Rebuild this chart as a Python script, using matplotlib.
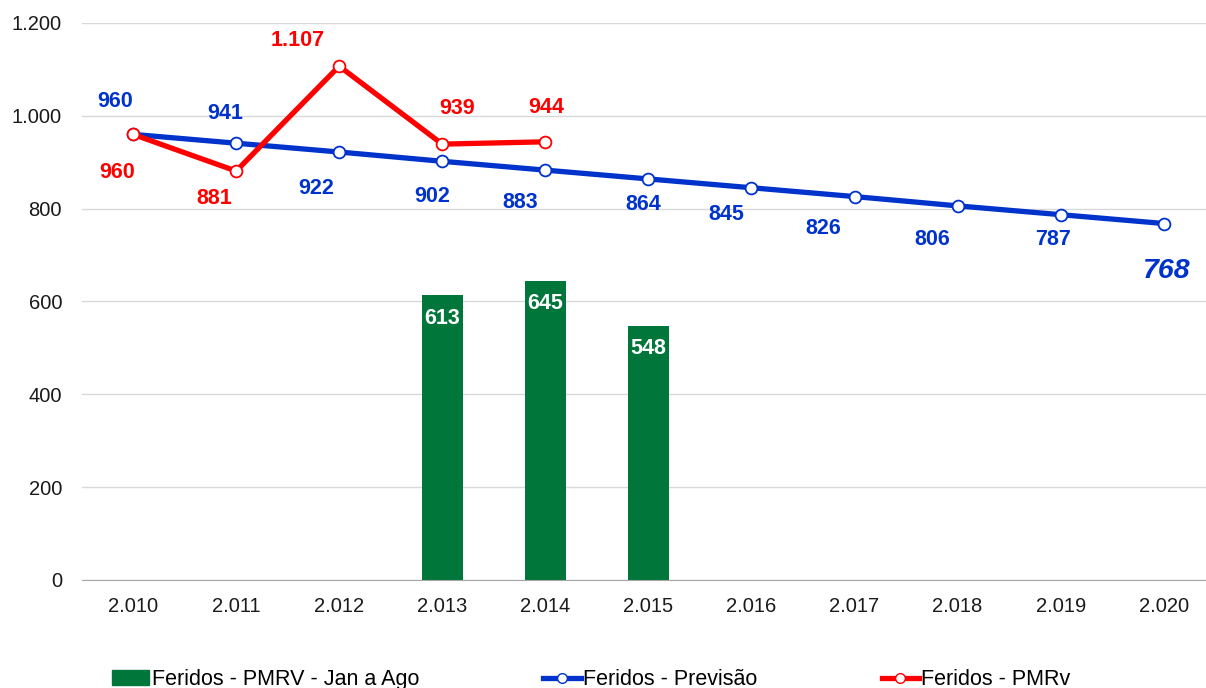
import matplotlib
matplotlib.use("Agg")
import matplotlib.pyplot as plt
from matplotlib.lines import Line2D
from matplotlib.patches import Patch
import numpy as np

plt.rcParams['font.family'] = ['Liberation Sans', 'DejaVu Sans']

# dados
anos = ["2.010", "2.011", "2.012", "2.013", "2.014", "2.015",
        "2.016", "2.017", "2.018", "2.019", "2.020"]
feridos_jan_ago = [None, None, None, 613, 645, 548, None, None, None, None, None]
feridos_previsao = [960, 941, 922, 902, 883, 864, 845, 826, 806, 787, 768]
feridos_pmrv = [960, 881, 1107, 939, 944]

VERDE = "#00763A"
AZUL = "#0033CC"
VERMELHO = "#FF0000"

def fmt(v):
    return f"{v:,}".replace(",", ".")

fig = plt.figure(figsize=(12.06, 6.88), dpi=100)
ax = fig.add_axes([0.0676, 0.157, 0.9324, 0.8096])

x = np.arange(len(anos))

# barras
xb = [i for i, v in enumerate(feridos_jan_ago) if v is not None]
vb = [v for v in feridos_jan_ago if v is not None]
ax.bar(xb, vb, width=0.4, color=VERDE, zorder=2)
for xi, v in zip(xb, vb):
    ax.annotate(str(v), (xi, v), xytext=(0, -23), textcoords="offset pixels",
                ha="center", va="center", color="white", fontweight="bold",
                fontsize=15.5, zorder=5)

# linhas
ax.plot(x, feridos_previsao, color=AZUL, lw=3.8, marker="o", ms=8.5,
        mfc="white", mec=AZUL, mew=1.3, zorder=3)
ax.plot(x[:len(feridos_pmrv)], feridos_pmrv, color=VERMELHO, lw=3.8,
        marker="o", ms=8.5, mfc="white", mec=VERMELHO, mew=1.3, zorder=4)

# rotulos (deslocamentos em pixels)
desl_prev = [(-18, 33), (-11, 30), (-23, -36), (-10, -35), (-25, -32),
             (-5, -26), (-25, -27), (-31, -32), (-25, -34), (-8, -25), (2, -47)]
for i, (v, d) in enumerate(zip(feridos_previsao, desl_prev)):
    ultimo = i == len(feridos_previsao) - 1
    ax.annotate(fmt(v), (x[i], v), xytext=d, textcoords="offset pixels",
                ha="center", va="center", color=AZUL, fontweight="bold",
                fontsize=20.5 if ultimo else 15.5,
                fontstyle="italic" if ultimo else "normal", zorder=6)

desl_pmrv = [(-16, -38), (-22, -27), (-42, 26), (15, 36), (1, 34)]
for i, (v, d) in enumerate(zip(feridos_pmrv, desl_pmrv)):
    ax.annotate(fmt(v), (x[i], v), xytext=d, textcoords="offset pixels",
                ha="center", va="center", color=VERMELHO, fontweight="bold",
                fontsize=15.5, zorder=6)

ax.set_ylim(0, 1200)
ax.set_xlim(-0.5, 10.41)
ax.set_yticks(range(0, 1201, 200))
ax.set_yticklabels([fmt(t) for t in range(0, 1201, 200)])
ax.set_xticks(x)
ax.set_xticklabels(anos)
ax.tick_params(axis="both", length=0, labelsize=14.5, colors="#1a1a1a")
ax.tick_params(axis="y", pad=14)
ax.tick_params(axis="x", pad=12)
ax.grid(axis="y", color="#D9D9D9", lw=1, zorder=0)
for s in ["top", "right", "left"]:
    ax.spines[s].set_visible(False)
ax.spines["bottom"].set_color("#A6A6A6")

handles = [
    Patch(color=VERDE),
    Line2D([], [], color=AZUL, lw=3.8, marker="o", ms=7, mfc="white", mec=AZUL),
    Line2D([], [], color=VERMELHO, lw=3.8, marker="o", ms=7, mfc="white", mec=VERMELHO),
]
labels = ["Feridos - PMRV - Jan a Ago", "Feridos - Previsão", "Feridos - PMRv"]
fig.legend(handles, labels, loc="center left", bbox_to_anchor=(0.0927, 0.012),
           ncol=3, frameon=False, fontsize=15.5, handlelength=1.75,
           handletextpad=0.1, columnspacing=5.77, borderaxespad=0,
           borderpad=0)

fig.savefig("out.png", dpi=100)
